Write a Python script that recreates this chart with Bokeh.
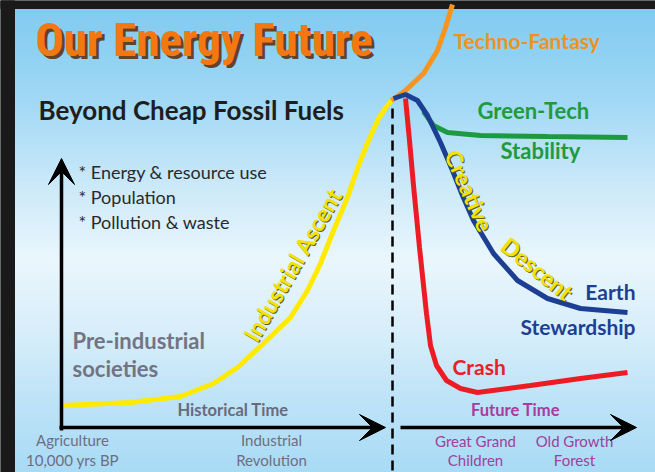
from bokeh.plotting import figure
from bokeh.models import Range1d, Arrow, VeeHead
from bokeh.core.properties import value
from bokeh.embed import file_html
from bokeh.resources import INLINE

# ---- data (pixel space of the 655x472 image) ----
ascent_x = [63, 130, 180, 213, 237, 263, 290, 307, 320, 333, 347, 358, 368, 378, 386, 391]
ascent_y = [405, 402, 396, 383, 367, 343, 317, 290, 263, 230, 197, 165, 140, 118, 106, 100]

techno_x = [391, 405, 423, 437, 445, 452]
techno_y = [100, 90, 73, 50, 27, 4]

steward_x = [393, 405, 417, 427, 440, 452, 462, 473, 493, 517, 547, 580, 627]
steward_y = [98, 94, 100, 115, 142, 170, 195, 220, 253, 280, 298, 308, 312]

green_x = [423, 433, 447, 480, 547, 627]
green_y = [111, 125, 132, 135, 136, 137]

crash_x = [405, 409, 413, 419, 426, 430, 436, 446, 460, 477, 530, 580, 627]
crash_y = [98, 140, 185, 247, 313, 345, 365, 380, 388, 392, 385, 378, 372]

bullets = ["* Energy & resource use", "* Population", "* Pollution & waste"]
hist_labels = [["Agriculture", "10,000 yrs BP"], ["Industrial", "Revolution"]]
future_labels = [["Great Grand", "Children"], ["Old Growth", "Forest"]]

# ---- figure ----
W, H = 655, 472
p = figure(width=W, height=H, x_range=Range1d(0, W), y_range=Range1d(H, 0),
           output_backend="svg", toolbar_location=None, min_border=0,
           x_axis_location=None, y_axis_location=None)
p.grid.visible = False
p.outline_line_color = None
p.background_fill_color = "#cdeaf8"
p.border_fill_color = "#cdeaf8"

# background gradient (style only)
stops = [(8, (128, 202, 240)), (100, (160, 216, 245)), (190, (205, 234, 249)),
         (260, (234, 246, 252)), (330, (216, 238, 250)), (400, (190, 227, 247)),
         (472, (168, 219, 245))]
def col(y):
    for (y0, c0), (y1, c1) in zip(stops[:-1], stops[1:]):
        if y0 <= y <= y1:
            t = (y - y0) / (y1 - y0)
            return "#%02x%02x%02x" % tuple(int(round(a + (b - a) * t)) for a, b in zip(c0, c1))
    return "#a8dbf5"
tops = list(range(8, H, 3))
cols = [col(t + 1.5) for t in tops]
p.quad(left=14, right=W, top=tops, bottom=[t + 4 for t in tops],
       fill_color=cols, line_color=cols, line_width=1)
# dark frame strips (top and left)
p.quad(left=[0, 0], right=[W, 14], top=[0, 0], bottom=[8, H],
       fill_color="#1a1a1a", line_color="#1a1a1a", line_width=1)

F = value("Lato")
TF = value("Roboto Condensed, DejaVu Sans Condensed")

# title
p.text(x=[38], y=[69], text=["Our Energy Future"], text_font=TF,
       text_font_style="bold", text_font_size="47px", text_color="#5a2a08", text_alpha=0.85)
p.text(x=[35], y=[66], text=["Our Energy Future"], text_font=TF,
       text_font_style="bold", text_font_size="47px", text_color="#f47812")
p.text(x=[38], y=[125], text=["Beyond Cheap Fossil Fuels"], text_font=F,
       text_font_style="bold", text_font_size="26px", text_color="#1e1e1e")

# bullets
p.text(x=[78] * 3, y=[182, 207, 232], text=bullets, text_font=F, text_font_size="18px",
       text_color="#2a2a2a")

# curves
p.line(ascent_x, ascent_y, line_color="#ffea00", line_width=5)
p.line(techno_x, techno_y, line_color="#f7941d", line_width=5)
p.line(green_x, green_y, line_color="#1b9a3f", line_width=5)
p.line(crash_x, crash_y, line_color="#ed1c24", line_width=5)
p.line(steward_x, steward_y, line_color="#1c3f94", line_width=5)

# dashed divider
p.segment(x0=[392], y0=[108], x1=[392], y1=[472], line_color="black", line_width=2.5,
          line_dash="10 6")

# axes arrows
p.add_layout(Arrow(x_start=61, y_start=430, x_end=61, y_end=158, line_width=3.5,
                   end=VeeHead(size=26, fill_color="black", line_color="black")))
p.add_layout(Arrow(x_start=59, y_start=427, x_end=385, y_end=427, line_width=3.5,
                   end=VeeHead(size=26, fill_color="black", line_color="black")))
p.add_layout(Arrow(x_start=400, y_start=427, x_end=636, y_end=427, line_width=3.5,
                   end=VeeHead(size=26, fill_color="black", line_color="black")))

# left-side labels
p.text(x=[72, 72], y=[353, 381], text=["Pre-industrial", "societies"], text_font=F,
       text_font_style="bold", text_font_size="22px", text_color="#737383")
p.text(x=[177], y=[419], text=["Historical Time"], text_font=F, text_font_style="bold",
       text_font_size="16.5px", text_color="#6a6a7a")
for cx, lines in zip([72, 271], hist_labels):
    p.text(x=[cx, cx], y=[448, 468], text=lines, text_font=F, text_font_size="15px",
           text_color="#6e6e80", text_align="center")

# future labels
p.text(x=[515], y=[419], text=["Future Time"], text_font=F, text_font_style="bold",
       text_font_size="16.5px", text_color="#a83aa0", text_align="center")
for cx, lines in zip([475, 574], future_labels):
    p.text(x=[cx, cx], y=[449, 468], text=lines, text_font=F, text_font_size="15px",
           text_color="#a0409a", text_align="center")

# scenario labels
p.text(x=[453], y=[52], text=["Techno-Fantasy"], text_font=F, text_font_style="bold",
       text_font_size="21px", text_color="#f0921e")
p.text(x=[477, 500], y=[123, 163], text=["Green-Tech", "Stability"], text_font=F,
       text_font_style="bold", text_font_size="22px", text_color="#1f9a3c")
p.text(x=[635, 635], y=[303, 338], text=["Earth", "Stewardship"], text_font=F,
       text_font_style="bold", text_font_size="21px", text_color="#1c3f94", text_align="right")
p.text(x=[452], y=[378], text=["Crash"], text_font=F, text_font_style="bold",
       text_font_size="21px", text_color="#e8202a")

# rotated labels along curves
for dx, c in [(1, "#5c5c20"), (0, "#f4e200")]:
    p.text(x=[292 + dx], y=[264 + dx], text=["Industrial Ascent"], angle=60, angle_units="deg",
           text_font=F, text_font_style="bold", text_font_size="23px", text_color=c,
           text_align="center", text_baseline="middle")
    p.text(x=[469 + dx, 537 + dx], y=[190 + dx, 268 + dx], text=["Creative", "Descent"],
           angle=[-66, -39], angle_units="deg", text_font=F, text_font_style="bold",
           text_font_size="23px", text_color=c, text_align="center", text_baseline="middle")

html = file_html(p, INLINE, title="Our Energy Future")
open("out.html", "w").write(html)
